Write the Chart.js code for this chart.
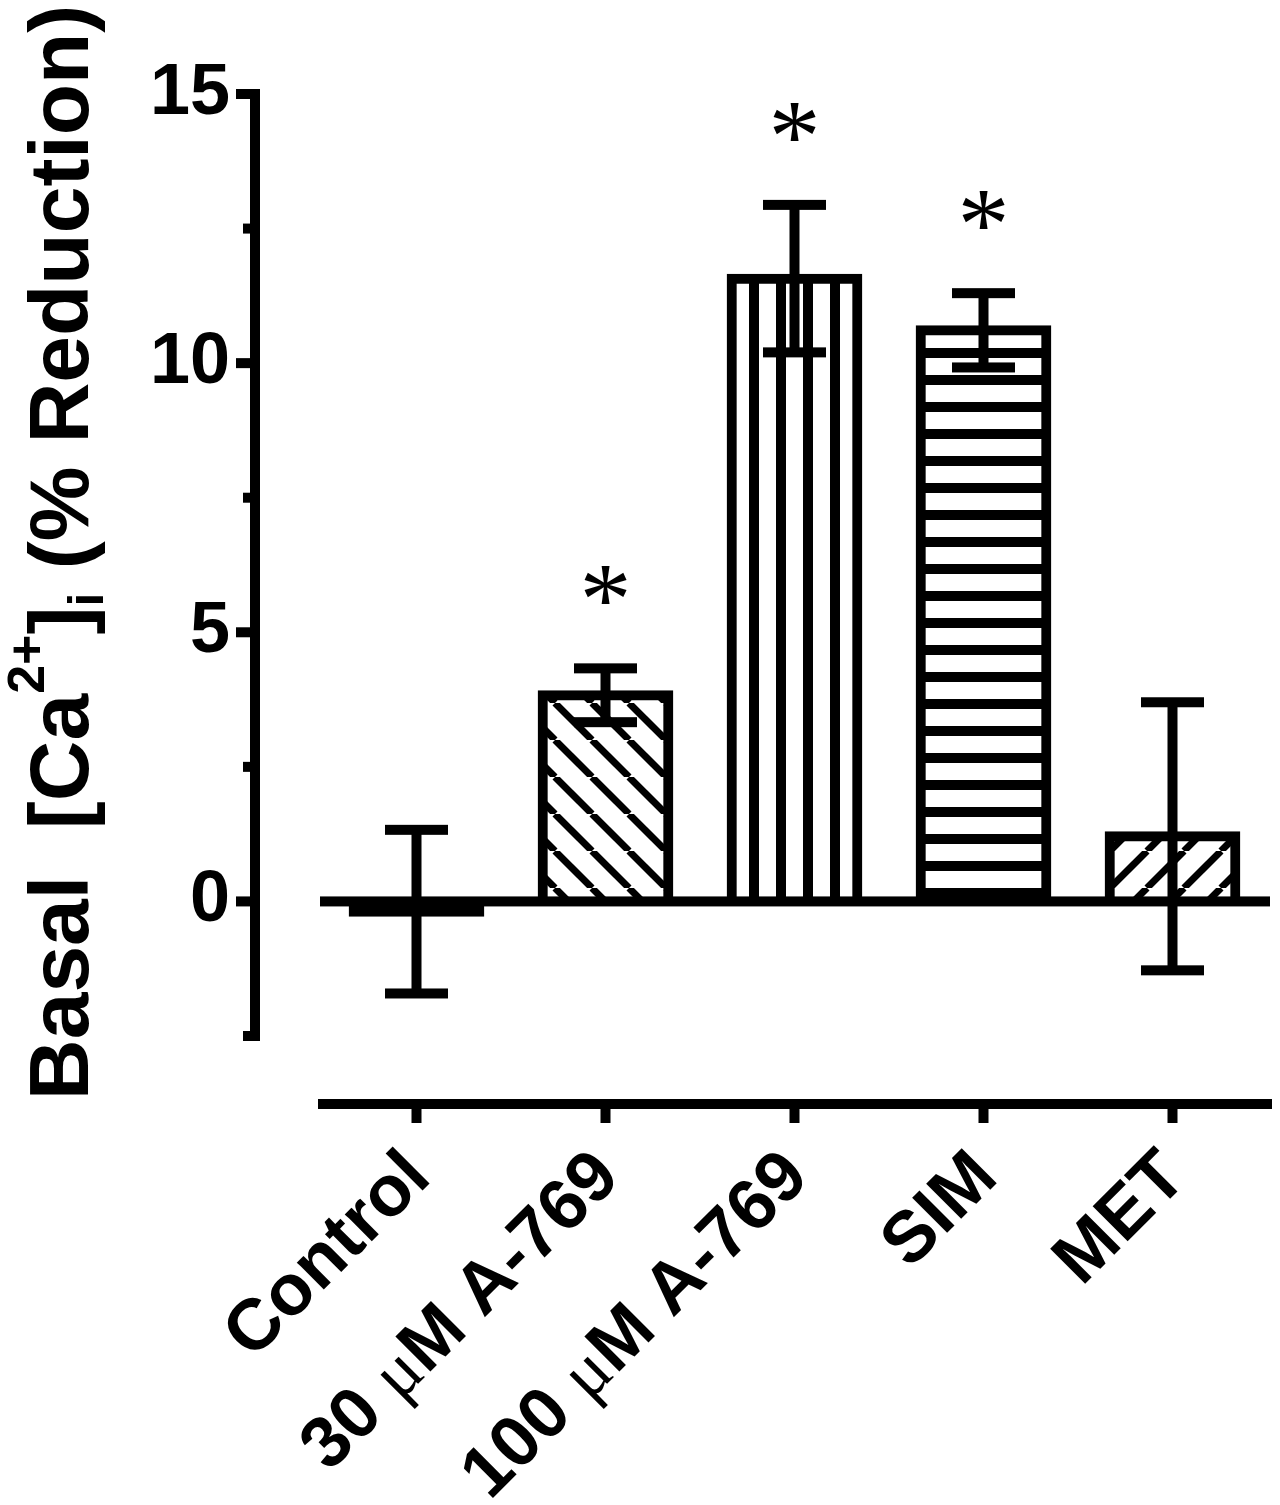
<!DOCTYPE html>
<html>
<head>
<meta charset="utf-8">
<script src="https://cdn.jsdelivr.net/npm/chart.js@4.4.1/dist/chart.umd.min.js"></script>
<style>
html, body { margin: 0; padding: 0; background: #fff; }
#wrap { width: 1280px; height: 1505px; position: relative; }
</style>
</head>
<body>
<div id="wrap"><canvas id="myChart"></canvas></div>
<script>
// data
var groups = ["Control", "30 μM A-769", "100 μM A-769", "SIM", "MET"];
var reduction = [-0.19, 3.83, 11.57, 10.61, 1.21];
var sem = [1.52, 0.50, 1.37, 0.69, 2.49];
var significant = [false, true, true, true, false];
var yTicks = [0, 5, 10, 15];
var yMinorTicks = [-2.5, 2.5, 7.5, 12.5];
var yMin = -2.5, yMax = 15;
// title pieces: text, font size, baseline shift (sup / sub)
var yTitle = [["Basal  [Ca", 84, 0], ["2+", 52, -44], ["]", 84, 0], ["i", 50, 15], [" (% Reduction)", 84, 0]];

var FONT = '"Liberation Sans", Arial, sans-serif';
var canvas = document.getElementById('myChart');
var mainCtx = canvas.getContext('2d');

// hatch fills like the prism bars
function makePattern(kind) {
    if (kind == 'solid') return '#000';
    var tile = document.createElement('canvas');
    var t = tile.getContext('2d');
    var p = (kind == 'vertical' || kind == 'horizontal') ? 27 : 37;
    tile.width = p; tile.height = p;
    t.fillStyle = '#fff';
    t.fillRect(0, 0, p, p);
    t.fillStyle = '#000';
    t.strokeStyle = '#000';
    if (kind == 'vertical') {
        t.fillRect(0, 0, 10, p);
    } else if (kind == 'horizontal') {
        t.fillRect(0, 0, p, 10);
    } else {
        t.lineWidth = 7;
        for (var k = -1; k <= 1; k++) {
            t.beginPath();
            if (kind == 'back') { t.moveTo(k * p, 0); t.lineTo(k * p + p, p); }
            else { t.moveTo(k * p, p); t.lineTo(k * p + p, 0); }
            t.stroke();
        }
    }
    var pat = mainCtx.createPattern(tile, 'repeat');
    if (kind == 'vertical') pat.setTransform(new DOMMatrix([1, 0, 0, 1, 20, 0]));
    if (kind == 'horizontal') pat.setTransform(new DOMMatrix([1, 0, 0, 1, 0, 24]));
    return pat;
}
var fills = ['solid', 'back', 'vertical', 'horizontal', 'slash'].map(makePattern);

var prismAxes = {
    id: 'prismAxes',
    afterDatasetsDraw: function (chart) {
        var c = chart.ctx, area = chart.chartArea;
        var x = chart.scales.x, y = chart.scales.y;
        c.save();
        c.fillStyle = '#000';

        // zero line
        var y0 = y.getPixelForValue(0);
        c.fillRect(area.left - 2, y0 - 5, area.right - area.left + 5, 10);

        // error bars + stars
        var meta = chart.getDatasetMeta(0);
        c.font = '104px "Liberation Serif", "Times New Roman", serif';
        c.textAlign = 'center';
        c.textBaseline = 'alphabetic';
        var m = c.measureText('*');
        meta.data.forEach(function (bar, i) {
            var top = y.getPixelForValue(reduction[i] + sem[i]);
            var bot = y.getPixelForValue(reduction[i] - sem[i]);
            c.fillRect(bar.x - 5, top, 10, bot - top);
            c.fillRect(bar.x - 31.5, top - 5, 63, 10);
            c.fillRect(bar.x - 31.5, bot - 5, 63, 10);
            if (significant[i]) {
                var cy = y.getPixelForValue(reduction[i] + sem[i] + 1.55);
                c.fillText('*', bar.x, cy + (m.actualBoundingBoxAscent - m.actualBoundingBoxDescent) / 2);
            }
        });

        // y axis, detached to the left
        var ax = area.left - 67;
        var yTop = y.getPixelForValue(yMax), yBot = y.getPixelForValue(yMin);
        c.fillRect(ax - 5, yTop - 5, 10, yBot - yTop + 10);
        yTicks.forEach(function (v) { c.fillRect(ax - 19, y.getPixelForValue(v) - 5, 19, 10); });
        yMinorTicks.forEach(function (v) { c.fillRect(ax - 12, y.getPixelForValue(v) - 5, 12, 10); });

        // x axis, detached below, with slanted labels (mu in a thin serif)
        var xa = area.bottom + 68;
        c.fillRect(area.left - 4, xa - 5, area.right - area.left + 9, 10);
        groups.forEach(function (g, i) {
            var tx = x.getPixelForValue(i);
            c.fillRect(tx - 5, xa, 10, 19);
            var parts = g.split(/(μ)/).filter(Boolean).map(function (s) {
                return [s, s == 'μ' ? '72px "Liberation Serif", serif' : 'bold 72px ' + FONT];
            });
            var total = 0;
            parts.forEach(function (p) { c.font = p[1]; total += c.measureText(p[0]).width; });
            c.save();
            c.translate(tx - 20, area.bottom + 107);
            c.rotate(-Math.PI / 4);
            c.textAlign = 'left';
            var px = -total;
            parts.forEach(function (p) {
                c.font = p[1];
                c.fillText(p[0], px, 52);
                px += c.measureText(p[0]).width;
            });
            c.restore();
        });

        // y title with super/subscript
        c.save();
        c.translate(88, 1100);
        c.rotate(-Math.PI / 2);
        c.textAlign = 'left';
        c.textBaseline = 'alphabetic';
        var px = 0;
        yTitle.forEach(function (p) {
            c.font = 'bold ' + p[1] + 'px ' + FONT;
            c.fillText(p[0], px, p[2]);
            px += c.measureText(p[0]).width;
        });
        c.restore();

        c.restore();
    }
};

new Chart(canvas, {
    type: 'bar',
    data: {
        labels: groups,
        datasets: [{
            data: reduction,
            backgroundColor: fills,
            borderColor: '#000',
            borderWidth: 10,
            inflateAmount: 5,
            barPercentage: 0.665,
            categoryPercentage: 1
        }]
    },
    options: {
        responsive: true,
        maintainAspectRatio: false,
        animation: false,
        devicePixelRatio: 1,
        layout: { padding: { top: 94, right: 13, left: 0, bottom: 0 } },
        plugins: { legend: { display: false }, tooltip: { enabled: false } },
        scales: {
            x: {
                grid: { display: false, drawTicks: false },
                border: { display: false },
                ticks: { display: false },
                afterFit: function (s) {
                    s.height = 1505 - 1036;
                    s.paddingLeft = 0; s.paddingRight = 0;
                }
            },
            y: {
                min: yMin, max: yMax,
                grid: { display: false, drawTicks: false },
                border: { display: false },
                afterBuildTicks: function (s) { s.ticks = yTicks.map(function (v) { return { value: v }; }); },
                ticks: { padding: 92, color: '#000', font: { family: FONT, size: 72, weight: 'bold' } },
                afterFit: function (s) {
                    s.width = 322;
                    s.paddingTop = 0; s.paddingBottom = 0;
                }
            }
        }
    },
    plugins: [prismAxes]
});
</script>
</body>
</html>
